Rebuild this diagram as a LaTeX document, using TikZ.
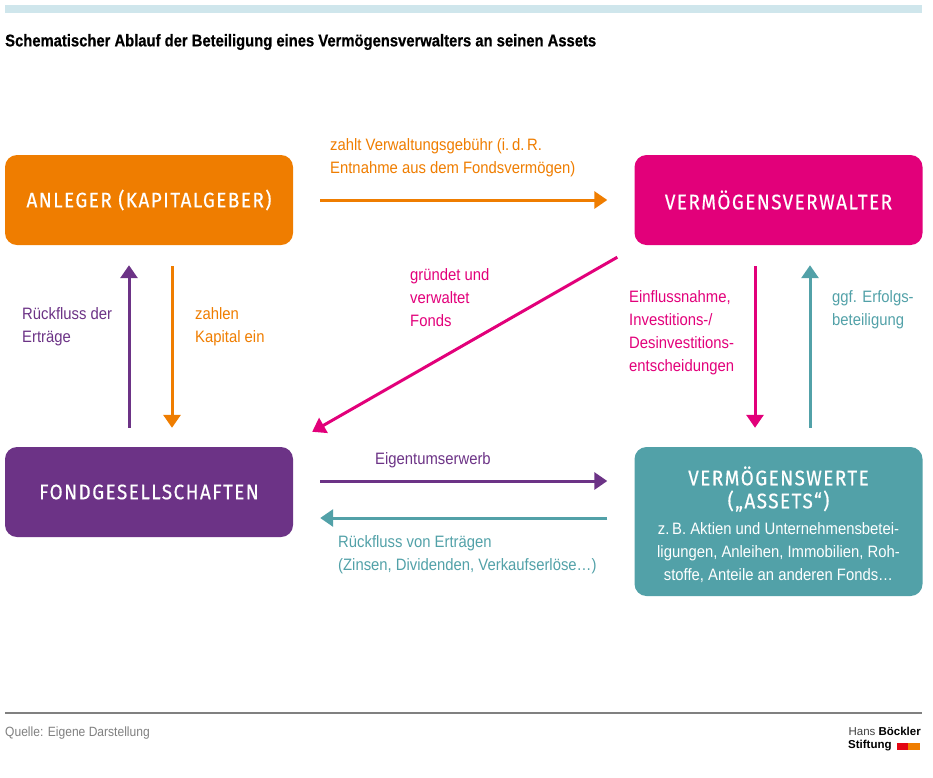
\documentclass[tikz,border=0pt]{standalone}
\usepackage{fontspec}
\setmainfont[FakeStretch=0.9]{Liberation Sans}
\newfontfamily\titlefont[FakeStretch=0.87, FakeBold=0.6]{Liberation Sans}
\newfontfamily\boxfont[LetterSpace=7, FakeStretch=0.9, FakeBold=0.5]{Fira Sans}
\newfontfamily\logofont{Liberation Sans}
\usetikzlibrary{arrows.meta,calc}
\definecolor{cOr}{HTML}{EF7D00}
\definecolor{cMa}{HTML}{E2007A}
\definecolor{cPu}{HTML}{6C3386}
\definecolor{cTe}{HTML}{52A1A8}
\definecolor{cBar}{HTML}{CFE6EC}
\definecolor{cGr}{HTML}{808080}
\definecolor{cRed}{HTML}{E30613}
\tikzset{
  box/.style={rounded corners=12pt, minimum width=288pt, minimum height=90pt, inner sep=0pt,
    text=white, font=\boxfont\fontsize{21}{23}\selectfont},
  arr/.style={line width=3pt, -{Triangle[width=17pt,length=13pt]}},
  lbl/.style={anchor=north west, inner sep=0pt, align=left, font=\fontsize{16.5}{23}\selectfont},
}
\begin{document}
\begin{tikzpicture}[x=1pt,y=-1pt]
\useasboundingbox (0,0) rectangle (933,777);
\fill[cBar] (5,5) rectangle (922,13);
\node[anchor=west, inner sep=0pt, font=\titlefont\bfseries\fontsize{17}{19}\selectfont] (title) at (5,42)
  {Schematischer Ablauf der Beteiligung eines Vermögensverwalters an seinen Assets};

% boxes
\node[box, fill=cOr] (anleger) at (149,200) {ANLEGER (KAPITALGEBER)};
\node[box, fill=cMa] (verwalter) at (778.5,200) {VERMÖGENSVERWALTER};
\node[box, fill=cPu] (fond) at (149,492) {FONDGESELLSCHAFTEN};
\node[box, fill=cTe, minimum height=149pt] (werte) at (778.5,521.5) {};
\node[inner sep=0pt, align=center, text=white, font=\boxfont\fontsize{21}{23}\selectfont, anchor=center]
  (wertetitel) at (778.5,489) {VERMÖGENSWERTE\\(„ASSETS“)};
\node[inner sep=0pt, align=center, text=white, font=\fontsize{16.5}{23}\selectfont, anchor=center]
  (wertetext) at (778.5,553) {z.\,B. Aktien und Unternehmensbetei-\\ligungen, Anleihen, Immobilien, Roh-\\stoffe, Anteile an anderen Fonds…};

% arrows
\draw[arr, cOr, shorten <=27pt, shorten >=27pt] (anleger) -- (verwalter);
\coordinate (dstart) at ($(verwalter.south west)+(-17,12)$);
\coordinate (dend) at ($(fond.north east)+(19,-15)$);
\draw[arr, cMa] (dstart) -- (dend);
\draw[arr, cPu, shorten <=19pt, shorten >=20pt] ([xshift=-20pt]fond.north) -- ([xshift=-20pt]anleger.south);
\draw[arr, cOr, shorten <=21pt, shorten >=19pt] ([xshift=23pt]anleger.south) -- ([xshift=23pt]fond.north);
\draw[arr, cMa, shorten <=21pt, shorten >=19pt] ([xshift=-23.5pt]verwalter.south) -- ([xshift=-23.5pt]werte.north);
\draw[arr, cTe, shorten <=19pt, shorten >=20pt] ([xshift=31.5pt]werte.north) -- ([xshift=31.5pt]verwalter.south);
\draw[arr, cPu, shorten <=27pt, shorten >=27pt] ([yshift=11pt]fond.east) -- ([yshift=11pt]fond.east -| werte.west);
\draw[arr, cTe, shorten <=27pt, shorten >=27pt] ([yshift=-26pt]fond.east -| werte.west) -- ([yshift=-26pt]fond.east);

% labels
\node[lbl, text=cOr] (l1) at (330,138) {zahlt Verwaltungsgebühr (i.\,d.\,R.\\Entnahme aus dem Fondsvermögen)};
\node[lbl, text=cMa] (l2) at (410,268) {gründet und\\verwaltet\\Fonds};
\node[lbl, text=cMa] (l3) at (629,290) {Einflussnahme,\\Investitions-/\\Desinvestitions-\\entscheidungen};
\node[lbl, text=cTe] (l4) at (832,290) {ggf. Erfolgs-\\beteiligung};
\node[lbl, text=cPu] (l5) at (22,307) {Rückfluss der\\Erträge};
\node[lbl, text=cOr] (l6) at (195,307) {zahlen\\Kapital ein};
\node[lbl, text=cPu] (l7) at (375,452) {Eigentumserwerb};
\node[lbl, text=cTe] (l8) at (338,535) {Rückfluss von Erträgen\\(Zinsen, Dividenden, Verkaufserlöse…)};

% footer
\draw[cGr, line width=1.2pt] (5,713) -- (922,713);
\node[anchor=west, inner sep=0pt, text=cGr, font=\fontsize{13.4}{16}\selectfont] (quelle) at (5,733) {Quelle: Eigene Darstellung};
\node[anchor=east, inner sep=0pt, font=\logofont\fontsize{11.5}{13}\selectfont] (logo1) at (921,731) {\textcolor{black!75}{Hans} \textbf{Böckler}};
\node[anchor=west, inner sep=0pt, font=\logofont\bfseries\fontsize{11.5}{13}\selectfont] (logo2) at (848,746) {Stiftung};
\fill[cRed] (897,742.5) rectangle (908,749.5);
\fill[cOr] (908,742.5) rectangle (919.5,749.5);
\end{tikzpicture}
\end{document}
